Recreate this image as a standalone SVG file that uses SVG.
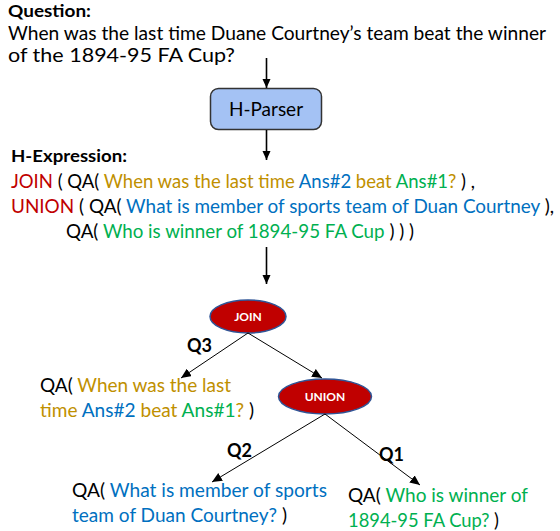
<svg xmlns="http://www.w3.org/2000/svg" width="560" height="531" viewBox="0 0 560 531">
<defs>
<style>
text{font-family:Lato,"Open Sans","Liberation Sans",sans-serif;fill:#000;}
.t{font-size:18.5px;}
.b{font-weight:bold;font-size:17.5px;}
.q{font-weight:bold;font-size:18px;}
.r{fill:#c00000;}
.y{fill:#bf9000;}
.u{fill:#0070c0;}
.g{fill:#00b050;}
.w{fill:#fff;font-weight:bold;font-size:12px;}
.ln{stroke:#000;stroke-width:1;fill:none;}
.va{stroke:#000;stroke-width:1.6;fill:none;}
.el{fill:#c00000;stroke:#2f5597;stroke-width:1.5;}
</style>
<marker id="ah" markerUnits="userSpaceOnUse" markerWidth="11" markerHeight="9" refX="10" refY="4.5" orient="auto">
<path d="M0,0 L10,4.5 L0,9 z" fill="#000"/>
</marker>
<marker id="av" markerUnits="userSpaceOnUse" markerWidth="10" markerHeight="10" refX="9" refY="4" orient="auto">
<path d="M0,0 L9,4 L0,8 z" fill="#000"/>
</marker>
</defs>

<g id="question">
<text class="b" x="8" y="17" textLength="83" lengthAdjust="spacingAndGlyphs">Question:</text>
<text class="t" x="8" y="40" textLength="538" lengthAdjust="spacingAndGlyphs">When was the last time Duane Courtney’s team beat the winner</text>
<text class="t" x="8" y="62" textLength="227" lengthAdjust="spacingAndGlyphs">of the 1894-95 FA Cup?</text>
</g>

<g id="hparser">
<rect x="210.5" y="88.5" width="111" height="41" rx="8" fill="#a4c2f4" stroke="#333" stroke-width="1.5"/>
<text class="t" x="266" y="115.5" text-anchor="middle" style="font-size:19px">H-Parser</text>
</g>

<g id="hexpression">
<text class="b" x="11" y="162" textLength="116" lengthAdjust="spacingAndGlyphs">H-Expression:</text>
<text class="t" x="11" y="188" textLength="464" lengthAdjust="spacingAndGlyphs"><tspan class="r">JOIN</tspan> ( QA( <tspan class="y">When was the last time </tspan><tspan class="u">Ans#2</tspan><tspan class="y"> beat </tspan><tspan class="g">Ans#1</tspan><tspan class="y">?</tspan> ) ,</text>
<text class="t" x="11" y="213" textLength="543" lengthAdjust="spacingAndGlyphs"><tspan class="r">UNION</tspan> ( QA( <tspan class="u">What is member of sports team of Duan Courtney</tspan> ),</text>
<text class="t" x="66" y="238" textLength="348" lengthAdjust="spacingAndGlyphs">QA( <tspan class="g">Who is winner of 1894-95 FA Cup</tspan> ) ) )</text>
</g>

<g id="join">
<ellipse class="el" cx="248" cy="316.5" rx="38" ry="16.5"/>
<text class="w" x="248" y="320.5" text-anchor="middle">JOIN</text>
</g>

<g id="union">
<ellipse class="el" cx="325" cy="396.5" rx="46.5" ry="17.5"/>
<text class="w" x="325" y="400.5" text-anchor="middle">UNION</text>
</g>

<g id="q3">
<text class="t" x="40" y="392" textLength="191" lengthAdjust="spacingAndGlyphs">QA( <tspan class="y">When was the last</tspan></text>
<text class="t" x="40" y="417" textLength="214" lengthAdjust="spacingAndGlyphs"><tspan class="y">time </tspan><tspan class="u">Ans#2</tspan><tspan class="y"> beat </tspan><tspan class="g">Ans#1</tspan><tspan class="y">?</tspan> )</text>
</g>

<g id="q2">
<text class="t" x="72" y="497" textLength="255" lengthAdjust="spacingAndGlyphs">QA( <tspan class="u">What is member of sports</tspan></text>
<text class="t" x="72" y="522" textLength="215" lengthAdjust="spacingAndGlyphs"><tspan class="u">team of Duan Courtney?</tspan> )</text>
</g>

<g id="q1">
<text class="t" x="348" y="501.5" textLength="180" lengthAdjust="spacingAndGlyphs">QA( <tspan class="g">Who is winner of</tspan></text>
<text class="t" x="348" y="526.5" textLength="151" lengthAdjust="spacingAndGlyphs"><tspan class="g">1894-95 FA Cup?</tspan> )</text>
</g>

<g id="connectors">
<line class="va" x1="266.5" y1="58" x2="266.5" y2="88" marker-end="url(#av)"/>
<line class="va" x1="266.5" y1="130" x2="266.5" y2="160" marker-end="url(#av)"/>
<line class="va" x1="266.5" y1="247" x2="266.5" y2="284" marker-end="url(#av)"/>
<line class="ln" x1="248" y1="333" x2="181" y2="378" marker-end="url(#ah)"/>
<line class="ln" x1="248" y1="333" x2="322" y2="378" marker-end="url(#ah)"/>
<line class="ln" x1="325" y1="414" x2="212" y2="482" marker-end="url(#ah)"/>
<line class="ln" x1="325" y1="414" x2="420" y2="485" marker-end="url(#ah)"/>
<text class="q" x="187" y="352">Q3</text>
<text class="q" x="227" y="457">Q2</text>
<text class="q" x="379" y="461">Q1</text>
</g>
</svg>
